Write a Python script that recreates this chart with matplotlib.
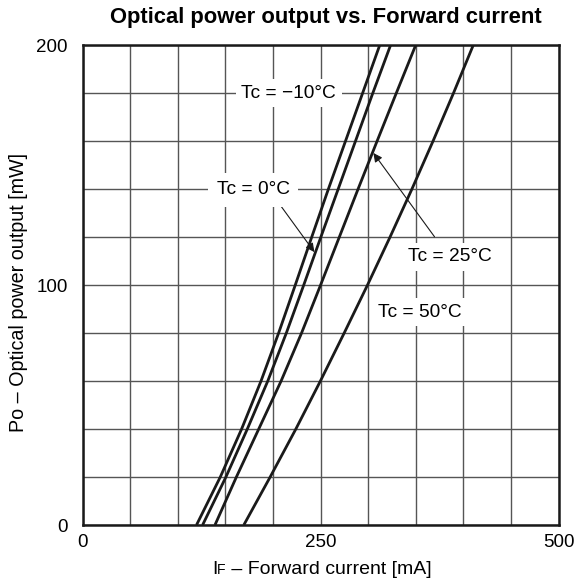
import matplotlib
matplotlib.use("Agg")
import matplotlib.pyplot as plt
from matplotlib.ticker import MultipleLocator
from matplotlib.offsetbox import TextArea, HPacker, AnnotationBbox

plt.rcParams['font.family'] = ['Liberation Sans', 'DejaVu Sans']

# Data: optical power (mW) and forward current (mA) per case temperature
po = [0, 20, 40, 60, 80, 100, 120, 140, 160, 180, 200]
if_m10 = [119.6, 144.6, 167.0, 187.4, 205.9, 223.4, 240.7, 258.2, 276.2, 294.2, 312.2]
if_0 = [126.0, 150.5, 173.0, 194.5, 214.0, 232.3, 250.3, 268.5, 286.7, 304.9, 323.6]
if_25 = [139.0, 161.5, 185.0, 208.5, 230.0, 250.0, 269.7, 289.4, 309.4, 329.6, 350.0]
if_50 = [169.3, 197.0, 224.0, 249.8, 274.8, 299.3, 323.0, 346.0, 368.2, 389.7, 410.5]

xticks = [0, 250, 500]
yticks = [0, 100, 200]

FS = 13.5
W, H = 576, 583
fig = plt.figure(figsize=(W / 100, H / 100), dpi=100)
ax = fig.add_axes([82.7 / W, 1 - 525 / H, (558.5 - 82.7) / W, (525 - 45) / H])

for xs in (if_m10, if_0, if_25, if_50):
    ax.plot(xs, po, color='#1a1a1a', lw=2.0, solid_capstyle='butt', zorder=3)

ax.set_xlim(0, 500)
ax.set_ylim(0, 200)
ax.set_xticks(xticks)
ax.set_yticks(yticks)
ax.xaxis.set_minor_locator(MultipleLocator(50))
ax.yaxis.set_minor_locator(MultipleLocator(20))
ax.grid(True, which='both', color='#555555', lw=1.0, zorder=1)
ax.set_axisbelow(True)
ax.tick_params(which='both', length=0, labelsize=FS)
ax.tick_params(axis='x', pad=6.5)
ax.tick_params(axis='y', pad=10.8)
for s in ax.spines.values():
    s.set_linewidth(1.8)
    s.set_color('#1a1a1a')
    s.set_zorder(4)

fig.text(325.5 / W, 1 - 17.5 / H, 'Optical power output vs. Forward current',
         fontsize=15.8, fontweight='bold', ha='center', va='center')
fig.text(18.5 / W, 1 - 293 / H, 'Po – Optical power output [mW]', fontsize=14.2,
         rotation=90, ha='center', va='center')

# x label with small "F" letter
XF = 14.0
ta1 = TextArea('I', textprops=dict(size=XF))
ta2 = TextArea('F', textprops=dict(size=XF * 0.72))
ta3 = TextArea(' – Forward current [mA]', textprops=dict(size=XF))
box = HPacker(children=[ta1, ta2, ta3], align='baseline', pad=0, sep=0)
ab = AnnotationBbox(box, (321.7 / W, 1 - 569 / H), xycoords='figure fraction',
                    frameon=False, box_alignment=(0.5, 0.5))
fig.add_artist(ab)

LF = 13.8
bbox = dict(boxstyle='square,pad=0.3', fc='white', ec='none')
arrow = dict(arrowstyle='-|>', lw=0.8, color='#1a1a1a', mutation_scale=13,
             shrinkA=0, shrinkB=0)

ax.text(216.4, 180, 'Tc = −10°C', fontsize=LF, ha='center', va='center',
        bbox=bbox, zorder=5)
ax.annotate('', xy=(243.5, 113.7), xytext=(208.3, 132.9), arrowprops=arrow, zorder=5)
ax.text(179.2, 139.6, 'Tc = 0°C', fontsize=LF, ha='center', va='center',
        bbox=dict(boxstyle='square,pad=0.45', fc='white', ec='none'), zorder=5)
ax.annotate('', xy=(305.5, 155.0), xytext=(369.7, 120.1), arrowprops=arrow, zorder=5)
ax.text(385.4, 111.7, 'Tc = 25°C', fontsize=LF, ha='center', va='center',
        bbox=bbox, zorder=5)
ax.text(354.2, 88.7, 'Tc = 50°C', fontsize=LF, ha='center', va='center',
        bbox=bbox, zorder=5)

fig.savefig('out.png', dpi=100)
